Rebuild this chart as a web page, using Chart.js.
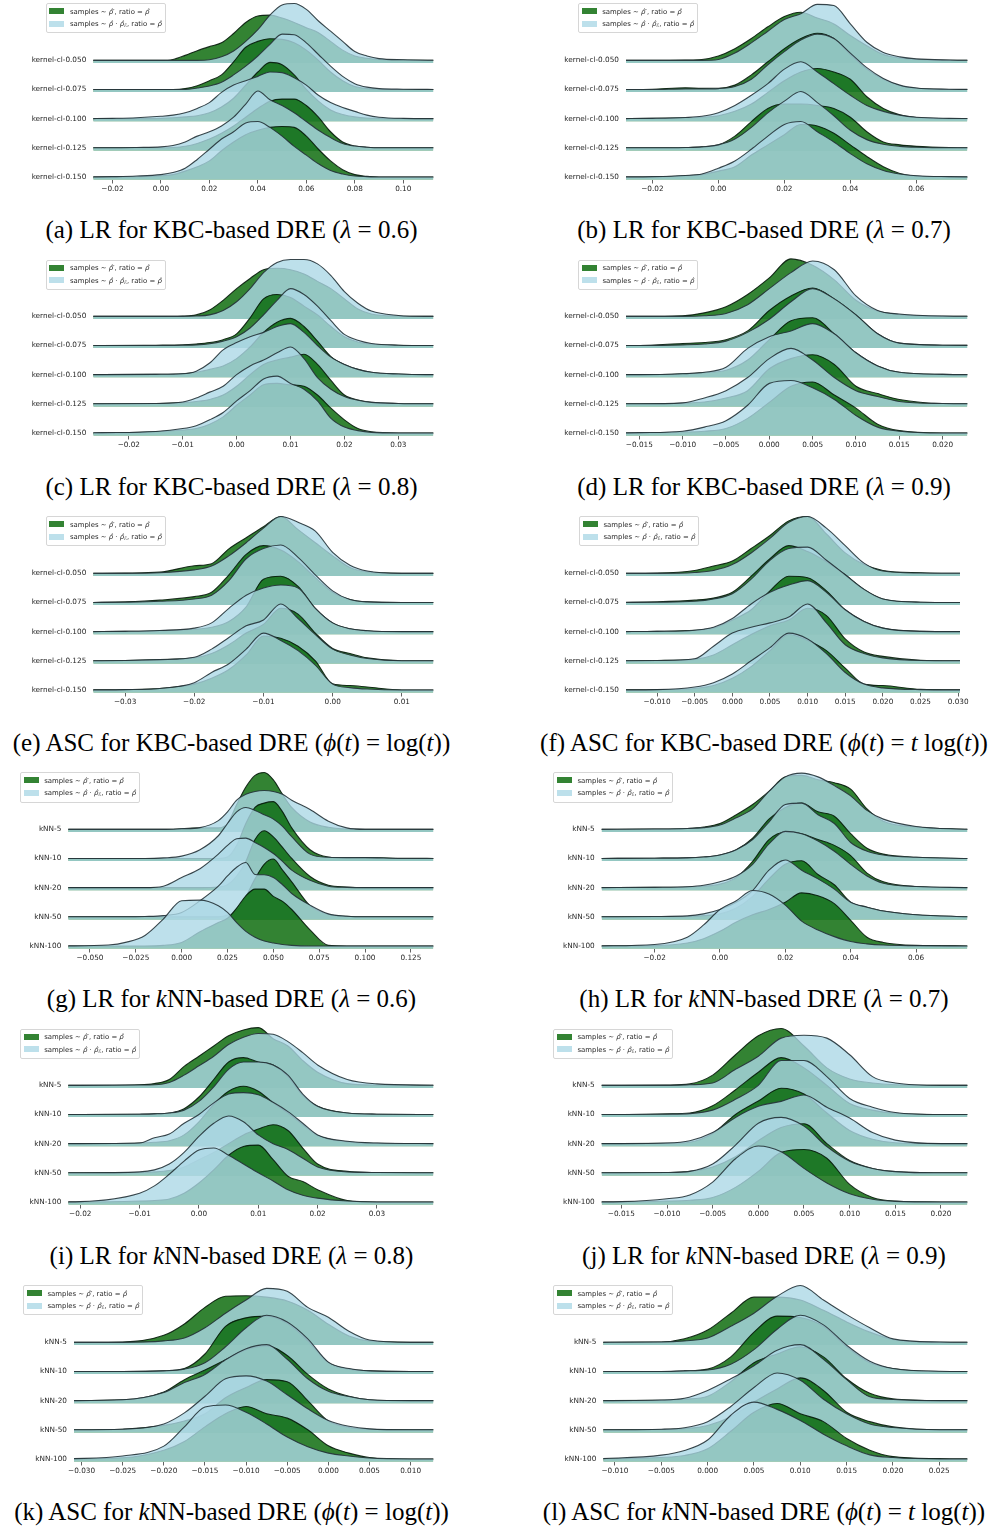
<!DOCTYPE html>
<html><head><meta charset="utf-8">
<script src="https://cdn.jsdelivr.net/npm/chart.js@4.4.1/dist/chart.umd.min.js"></script>
<style>
html,body{margin:0;padding:0;background:#fff;}
#page{position:relative;width:995px;height:1529px;overflow:hidden;background:#fff;}
.panel{position:absolute;}
.legend{position:absolute;z-index:5;font-family:"DejaVu Sans",sans-serif;font-size:6.9px;color:#262626;background:rgba(255,255,255,0.8);border:1px solid #d6d6d6;border-radius:2px;padding:1.5px 3px 1.5px 2.5px;line-height:12.6px;white-space:nowrap;}
.legend .sw{display:inline-block;width:15px;height:6px;margin-right:5.7px;vertical-align:middle;position:relative;top:-0.5px;}
.legend sub{font-size:70%;line-height:0;vertical-align:-0.3em;}
.caption{position:absolute;z-index:5;width:540px;text-align:center;font-family:"Liberation Serif","Times New Roman",serif;font-size:25px;line-height:30px;color:#000;white-space:nowrap;}
</style></head>
<body><div id="page"></div>
<script>
// ---------- labels & ticks ----------
const kbcLabels = ['kernel-cl-0.050','kernel-cl-0.075','kernel-cl-0.100','kernel-cl-0.125','kernel-cl-0.150'];
const knnLabels = ['kNN-5','kNN-10','kNN-20','kNN-50','kNN-100'];
const aTicks = [-0.02,0,0.02,0.04,0.06,0.08,0.10];
const bTicks = [-0.02,0,0.02,0.04,0.06];
const cTicks = [-0.02,-0.01,0,0.01,0.02,0.03];
const dTicks = [-0.015,-0.01,-0.005,0,0.005,0.01,0.015,0.02];
const eTicks = [-0.03,-0.02,-0.01,0,0.01];
const fTicks = [-0.01,-0.005,0,0.005,0.01,0.015,0.02,0.025,0.03];
const gTicks = [-0.05,-0.025,0,0.025,0.05,0.075,0.1,0.125];
const hTicks = [-0.02,0,0.02,0.04,0.06];
const iTicks = [-0.02,-0.01,0,0.01,0.02,0.03];
const jTicks = [-0.015,-0.01,-0.005,0,0.005,0.01,0.015,0.02];
const kTicks = [-0.03,-0.025,-0.02,-0.015,-0.01,-0.005,0,0.005,0.01];
const lTicks = [-0.01,-0.005,0,0.005,0.01,0.015,0.02,0.025];

// ---------- density samples (height in row units, rows top->bottom) ----------
// (a)
const aX = [-0.03,-0.02,-0.01,0,0.005,0.01,0.015,0.02,0.025,0.03,0.035,0.04,0.045,0.05,0.055,0.06,0.065,0.07,0.075,0.08,0.085,0.09,0.1,0.115];
const aG = [
 [0,0,0,0,0.03,0.17,0.33,0.47,0.6,0.92,1.3,1.52,1.55,1.45,1.3,1.12,0.95,0.65,0.35,0.15,0.07,0.03,0.01,0],
 [0,0,0,0,0,0.03,0.13,0.3,0.5,0.95,1.45,1.65,1.74,1.72,1.6,1.35,1.0,0.6,0.3,0.1,0.03,0.01,0,0],
 [0,0,0,0.01,0.03,0.06,0.1,0.2,0.4,0.7,1.15,1.6,1.93,1.85,1.5,1.0,0.6,0.3,0.14,0.06,0.02,0.01,0,0],
 [0,0,0,0,0.01,0.05,0.15,0.3,0.5,0.75,1.05,1.35,1.6,1.67,1.67,1.45,1.05,0.55,0.2,0.06,0.02,0,0,0],
 [0,0,0.01,0.04,0.08,0.2,0.35,0.55,0.9,1.2,1.45,1.6,1.7,1.73,1.7,1.4,0.95,0.55,0.25,0.08,0.02,0,0,0]];
const aB = [
 [0,0,0,0,0,0,0,0.02,0.12,0.32,0.65,1.05,1.55,1.9,1.95,1.75,1.35,1.0,0.65,0.3,0.15,0.06,0.02,0],
 [0,0,0,0,0,0,0.05,0.12,0.25,0.5,0.8,1.15,1.55,1.9,1.88,1.6,1.2,0.8,0.45,0.2,0.08,0.03,0.01,0],
 [0,0.01,0.03,0.08,0.12,0.2,0.35,0.55,0.9,1.15,1.3,1.45,1.6,1.58,1.4,1.15,0.8,0.55,0.38,0.25,0.12,0.05,0.01,0],
 [0,0,0.01,0.03,0.08,0.2,0.4,0.55,0.75,1.05,1.5,1.95,1.65,1.45,1.2,0.9,0.6,0.35,0.15,0.06,0.02,0,0,0],
 [0,0.01,0.03,0.08,0.15,0.3,0.6,0.95,1.3,1.55,1.85,1.9,1.7,1.4,1.05,0.75,0.45,0.22,0.1,0.03,0.01,0,0,0]];
// (b)
const bX = [-0.03,-0.02,-0.01,-0.005,0,0.005,0.01,0.015,0.02,0.025,0.03,0.035,0.04,0.045,0.05,0.055,0.06,0.07,0.08];
const bG = [
 [0,0,0.01,0.03,0.15,0.4,0.75,1.15,1.5,1.65,1.45,1.25,0.85,0.5,0.2,0.08,0.03,0,0],
 [0,0.01,0.06,0.04,0.04,0.15,0.5,0.95,1.4,1.75,1.93,1.75,1.2,0.7,0.35,0.13,0.04,0,0],
 [0,0.01,0.03,0.05,0.1,0.25,0.5,0.9,1.3,1.6,1.72,1.6,1.35,0.75,0.35,0.13,0.04,0,0],
 [0,0,0.01,0.03,0.1,0.4,0.9,1.35,1.5,1.5,1.45,1.35,1.05,0.55,0.2,0.1,0.05,0.01,0],
 [0,0,0.04,0.08,0.2,0.35,0.75,1.1,1.45,1.8,1.75,1.5,1.1,0.7,0.35,0.12,0.03,0,0]];
const bB = [
 [0,0,0,0,0.03,0.25,0.6,1.0,1.4,1.6,1.92,1.88,1.25,0.62,0.27,0.12,0.05,0.01,0],
 [0,0,0.02,0.02,0.03,0.1,0.35,0.85,1.3,1.7,1.9,1.75,1.25,0.75,0.38,0.15,0.05,0.01,0],
 [0,0.01,0.04,0.08,0.2,0.45,0.8,1.2,1.7,1.95,1.6,1.2,0.8,0.45,0.25,0.12,0.05,0.01,0],
 [0,0,0.01,0.03,0.1,0.3,0.7,1.2,1.6,1.93,1.55,1.1,0.6,0.28,0.12,0.05,0.02,0,0],
 [0,0.01,0.05,0.1,0.3,0.55,0.95,1.4,1.8,1.9,1.55,1.2,0.8,0.45,0.22,0.1,0.04,0.01,0]];
// (c)
const cX = [-0.03,-0.025,-0.015,-0.01,-0.0075,-0.005,-0.0025,0,0.0025,0.005,0.0075,0.01,0.0125,0.015,0.0175,0.02,0.0225,0.025,0.03,0.035,0.04];
const cG = [
 [0,0,0,0.01,0.05,0.22,0.55,0.95,1.3,1.6,1.65,1.6,1.45,1.2,0.95,0.6,0.25,0.08,0.01,0,0],
 [0,0,0.01,0.02,0.05,0.1,0.2,0.4,0.95,1.6,1.75,1.65,1.35,1.05,0.65,0.3,0.12,0.04,0.01,0,0],
 [0,0,0.01,0.03,0.08,0.18,0.3,0.55,0.95,1.45,1.8,1.93,1.65,1.15,0.62,0.35,0.18,0.08,0.02,0,0],
 [0,0,0.01,0.04,0.08,0.15,0.3,0.6,1.0,1.35,1.5,1.6,1.7,1.35,0.8,0.3,0.13,0.05,0.01,0,0],
 [0,0,0.04,0.1,0.15,0.3,0.55,0.95,1.3,1.65,1.7,1.65,1.6,1.3,0.85,0.45,0.15,0.04,0,0,0]];
const cB = [
 [0,0,0,0,0.01,0.05,0.2,0.5,0.95,1.5,1.85,1.95,1.95,1.8,1.4,0.85,0.45,0.18,0.03,0,0],
 [0,0,0,0.01,0.02,0.06,0.15,0.3,0.6,1.05,1.55,1.95,1.75,1.35,0.85,0.38,0.18,0.07,0.01,0,0],
 [0,0,0.01,0.03,0.12,0.4,0.85,1.1,1.3,1.45,1.65,1.75,1.45,1.0,0.6,0.35,0.18,0.08,0.02,0,0],
 [0,0,0.01,0.06,0.2,0.4,0.6,1.0,1.3,1.5,1.75,1.95,1.55,0.9,0.5,0.25,0.12,0.05,0.01,0,0],
 [0,0.01,0.05,0.15,0.25,0.45,0.7,1.1,1.45,1.85,1.95,1.7,1.5,1.1,0.5,0.2,0.08,0.02,0,0,0]];
// (d)
const dX = [-0.0175,-0.015,-0.01,-0.0075,-0.005,-0.0025,0,0.0025,0.005,0.0075,0.01,0.0125,0.015,0.02,0.025];
const dG = [
 [0,0,0.02,0.12,0.33,0.75,1.32,1.97,1.75,1.25,0.55,0.18,0.06,0,0],
 [0,0,0.07,0.1,0.2,0.5,1.2,1.7,1.97,1.6,1.05,0.4,0.08,0.01,0],
 [0,0,0.03,0.07,0.15,0.5,1.2,1.85,1.95,1.4,0.75,0.3,0.08,0.01,0],
 [0,0,0.02,0.06,0.2,0.45,1.2,1.55,1.68,1.35,0.6,0.35,0.15,0.01,0],
 [0,0,0.03,0.06,0.15,0.5,1.05,1.6,1.75,1.3,0.85,0.3,0.08,0,0]];
const dB = [
 [0,0,0,0.02,0.1,0.4,0.95,1.5,1.9,1.6,0.7,0.2,0.08,0.01,0],
 [0,0,0.02,0.05,0.15,0.45,0.9,1.5,1.95,1.6,1.05,0.4,0.08,0.01,0],
 [0,0,0.03,0.08,0.25,0.9,1.3,1.5,1.75,1.4,0.75,0.3,0.08,0.01,0],
 [0,0,0.03,0.2,0.45,0.9,1.55,1.9,1.5,0.9,0.45,0.25,0.08,0.01,0],
 [0,0.01,0.06,0.2,0.42,0.95,1.7,1.8,1.55,1.15,0.6,0.2,0.06,0,0]];
// (e)
const eX = [-0.035,-0.03,-0.025,-0.02,-0.0175,-0.015,-0.0125,-0.01,-0.0075,-0.005,-0.0025,0,0.0025,0.005,0.01,0.015];
const eG = [
 [0,0.01,0.04,0.26,0.33,0.84,1.22,1.6,1.95,1.5,1.05,0.6,0.2,0.05,0,0],
 [0,0.02,0.08,0.2,0.35,0.95,1.65,1.95,1.8,1.4,0.85,0.35,0.1,0.02,0,0],
 [0,0.01,0.03,0.08,0.15,0.35,0.85,1.8,1.9,1.55,0.8,0.3,0.1,0.03,0,0],
 [0,0.01,0.04,0.1,0.25,0.55,0.95,1.25,1.8,1.6,0.95,0.42,0.25,0.1,0,0],
 [0,0.01,0.05,0.2,0.4,0.7,1.2,1.85,1.77,1.5,1.0,0.21,0.15,0.1,0,0]];
const eB = [
 [0,0,0.02,0.12,0.25,0.6,1.05,1.55,1.95,1.75,1.45,0.72,0.28,0.08,0,0],
 [0,0.01,0.04,0.12,0.25,0.75,1.5,1.85,1.97,1.55,0.95,0.4,0.1,0.02,0,0],
 [0,0.01,0.04,0.12,0.3,0.8,1.25,1.5,1.6,1.5,0.8,0.3,0.1,0.03,0,0],
 [0,0.01,0.04,0.12,0.4,0.8,1.2,1.4,1.95,1.45,0.9,0.4,0.2,0.08,0,0],
 [0,0.01,0.05,0.25,0.6,0.9,1.4,1.95,1.7,1.35,0.85,0.2,0.08,0.03,0,0]];
// (f)
const fX = [-0.015,-0.01,-0.005,-0.0025,0,0.0025,0.005,0.0075,0.01,0.0125,0.015,0.0175,0.02,0.025,0.031];
const fG = [
 [0,0.01,0.1,0.25,0.42,0.85,1.3,1.8,1.95,1.35,0.7,0.3,0.1,0.02,0],
 [0,0.02,0.08,0.15,0.35,0.9,1.5,1.95,1.75,1.4,0.95,0.45,0.12,0.01,0],
 [0,0.01,0.05,0.12,0.4,0.75,1.4,1.9,1.85,1.4,0.75,0.35,0.12,0.01,0],
 [0,0.01,0.05,0.2,0.55,0.9,1.2,1.4,1.8,1.55,0.75,0.3,0.15,0.02,0],
 [0,0.01,0.05,0.15,0.4,0.8,1.35,1.9,1.7,1.35,0.75,0.2,0.15,0.02,0]];
const fB = [
 [0,0,0.03,0.1,0.3,0.7,1.2,1.75,1.95,1.55,0.95,0.35,0.08,0.01,0],
 [0,0.01,0.04,0.12,0.3,0.8,1.45,1.85,1.9,1.45,0.95,0.45,0.12,0.01,0],
 [0,0.01,0.05,0.15,0.45,0.95,1.35,1.6,1.75,1.35,0.75,0.35,0.12,0.01,0],
 [0,0.01,0.07,0.5,0.95,1.15,1.3,1.5,1.95,1.3,0.55,0.25,0.1,0.01,0],
 [0,0.01,0.1,0.25,0.55,1.0,1.45,1.95,1.75,1.25,0.6,0.2,0.07,0.01,0]];
// (g)
const gX = [-0.065,-0.04,-0.03,-0.02,-0.01,0,0.01,0.02,0.025,0.03,0.035,0.04,0.045,0.05,0.055,0.06,0.07,0.08,0.09,0.1,0.12,0.14];
const gG = [
 [0,0,0,0,0,0.02,0.05,0.05,0.2,0.85,1.45,1.85,1.95,1.7,1.2,0.75,0.25,0.07,0.01,0,0,0],
 [0,0,0,0,0,0,0,0,0.05,0.45,1.2,1.75,1.9,1.95,1.6,1.05,0.3,0.05,0.02,0.03,0.01,0],
 [0,0,0,0,0,0,0,0.02,0.1,0.4,0.9,1.65,1.95,1.74,1.38,1.0,0.38,0.08,0.02,0,0,0],
 [0,0,0,0,0,0,0,0,0.05,0.2,0.7,1.3,1.8,1.98,1.6,1.2,0.38,0.08,0.02,0,0,0],
 [0,0,0,0,0.02,0.12,0.49,0.8,0.95,1.3,1.72,1.95,1.95,1.7,1.53,1.25,0.55,0.02,0,0,0,0]];
const gB = [
 [0,0,0,0,0,0.02,0.06,0.3,0.6,1.0,1.2,1.3,1.33,1.3,1.2,1.0,0.68,0.28,0.05,0,0,0],
 [0,0,0,0,0.02,0.08,0.3,0.78,1.2,1.6,1.75,1.65,1.5,1.35,1.1,0.75,0.15,0.04,0.03,0.03,0,0],
 [0,0,0,0,0.05,0.35,0.65,1.15,1.45,1.68,1.7,1.55,1.38,1.17,0.9,0.6,0.25,0.05,0.01,0,0,0],
 [0,0,0,0.01,0.04,0.15,0.55,1.05,1.4,1.7,1.86,1.45,1.44,1.35,1.1,0.8,0.4,0.1,0.02,0,0,0],
 [0,0.03,0.13,0.36,0.92,1.55,1.57,1.38,1.15,0.8,0.5,0.3,0.17,0.1,0.05,0.02,0,0,0,0,0,0]];
// (h)
const hX = [-0.037,-0.02,-0.01,-0.005,0,0.005,0.01,0.015,0.02,0.025,0.03,0.035,0.04,0.045,0.05,0.06,0.076];
const hG = [
 [0,0.01,0.03,0.08,0.2,0.5,0.85,1.3,1.8,1.85,1.7,1.6,1.38,0.7,0.28,0.08,0],
 [0,0.01,0.02,0.05,0.12,0.3,0.7,1.35,1.75,1.9,1.6,1.45,0.85,0.35,0.15,0.04,0],
 [0,0.01,0.02,0.05,0.12,0.35,0.9,1.65,1.9,1.85,1.65,1.45,1.1,0.5,0.2,0.04,0],
 [0,0,0.01,0.04,0.1,0.3,0.7,1.3,1.8,1.92,1.45,1.1,0.5,0.33,0.2,0.07,0],
 [0,0.01,0.1,0.25,0.5,0.82,1.07,1.25,1.5,1.82,1.72,1.45,0.88,0.3,0.12,0.02,0]];
const hB = [
 [0,0.01,0.03,0.06,0.15,0.4,0.7,1.3,1.8,1.93,1.8,1.5,1.15,0.65,0.35,0.1,0],
 [0,0.01,0.02,0.05,0.12,0.3,0.65,1.25,1.85,1.9,1.5,1.2,0.55,0.25,0.12,0.04,0],
 [0,0.01,0.03,0.08,0.2,0.4,0.8,1.5,1.93,1.85,1.6,1.25,0.8,0.4,0.15,0.04,0],
 [0,0.01,0.03,0.1,0.25,0.5,0.9,1.6,1.95,1.6,1.3,0.95,0.5,0.33,0.2,0.07,0],
 [0,0.05,0.3,0.72,1.25,1.55,1.9,1.78,1.4,0.85,0.55,0.32,0.15,0.07,0.03,0.01,0]];
// (i)
const iX = [-0.023,-0.02,-0.01,-0.0075,-0.005,-0.0025,0,0.0025,0.005,0.0075,0.01,0.0125,0.015,0.0175,0.02,0.025,0.03,0.04];
const iG = [
 [0,0,0.02,0.06,0.2,0.65,1.0,1.35,1.7,1.9,1.98,1.6,1.35,0.85,0.45,0.06,0.01,0],
 [0,0,0.01,0.02,0.05,0.2,0.6,1.2,1.8,1.95,1.8,1.7,1.3,0.65,0.28,0.05,0.01,0],
 [0,0,0.02,0.05,0.1,0.3,0.75,1.35,1.8,1.97,1.8,1.4,1.05,0.65,0.28,0.06,0.01,0],
 [0,0,0.01,0.03,0.08,0.2,0.45,0.7,1.0,1.3,1.5,1.65,1.45,0.85,0.3,0.05,0.01,0],
 [0,0,0.03,0.05,0.1,0.3,0.65,1.1,1.6,1.9,1.95,1.45,0.88,0.7,0.42,0.05,0,0]];
const iB = [
 [0,0,0.01,0.02,0.1,0.35,0.67,1.0,1.4,1.65,1.78,1.75,1.5,1.12,0.7,0.2,0.05,0],
 [0,0,0.01,0.02,0.05,0.15,0.45,0.95,1.55,1.8,1.8,1.7,1.35,0.7,0.28,0.05,0.01,0],
 [0,0,0.02,0.2,0.33,0.7,1.0,1.4,1.7,1.75,1.68,1.42,1.1,0.7,0.3,0.08,0.02,0],
 [0,0,0.03,0.1,0.3,0.7,1.25,1.7,1.95,1.75,1.3,1.0,0.8,0.5,0.2,0.03,0.01,0],
 [0,0.01,0.3,0.55,0.95,1.4,1.78,1.85,1.6,1.3,1.0,0.72,0.42,0.23,0.13,0.03,0,0]];
// (j)
const jX = [-0.018,-0.015,-0.01,-0.0075,-0.005,-0.0025,0,0.0025,0.005,0.0075,0.01,0.0125,0.015,0.02,0.023];
const jG = [
 [0,0,0.01,0.05,0.35,1.05,1.7,1.95,1.35,0.6,0.22,0.08,0.02,0,0],
 [0,0,0.02,0.05,0.3,0.85,1.45,1.95,1.6,1.0,0.38,0.15,0.04,0,0],
 [0,0,0.01,0.05,0.35,1.0,1.46,1.9,1.7,1.05,0.45,0.15,0.03,0,0],
 [0,0,0.01,0.05,0.2,0.55,1.1,1.55,1.68,1.0,0.42,0.15,0.04,0,0],
 [0,0,0.03,0.06,0.15,0.5,1.05,1.7,1.8,1.5,0.6,0.15,0.03,0,0]];
const jB = [
 [0,0,0,0.02,0.08,0.55,1.0,1.62,1.72,1.62,1.05,0.3,0.08,0,0],
 [0,0,0.01,0.03,0.15,0.52,1.0,1.85,1.85,1.3,0.55,0.25,0.07,0,0],
 [0,0,0.02,0.1,0.38,0.9,1.28,1.45,1.67,1.25,0.88,0.38,0.12,0,0],
 [0,0,0.01,0.05,0.3,0.95,1.7,1.9,1.6,0.9,0.4,0.15,0.04,0,0],
 [0,0.01,0.11,0.24,0.68,1.48,1.92,1.72,1.15,0.65,0.28,0.09,0.02,0,0]];
// (k)
const kX = [-0.032,-0.025,-0.02,-0.0175,-0.015,-0.0125,-0.01,-0.0075,-0.005,-0.0025,0,0.0025,0.005,0.01,0.013];
const kG = [
 [0,0.01,0.24,0.63,1.2,1.58,1.6,1.55,1.42,1.1,0.62,0.22,0.05,0,0],
 [0,0,0.02,0.1,0.6,1.55,1.84,1.9,1.65,1.05,0.3,0.08,0.02,0,0],
 [0,0.03,0.3,0.72,1.05,1.4,1.75,1.88,1.55,0.9,0.4,0.15,0.03,0,0],
 [0,0.02,0.15,0.3,0.55,1.1,1.45,1.72,1.65,1.0,0.3,0.08,0.02,0,0],
 [0,0.04,0.3,0.6,1.1,1.55,1.8,1.55,1.4,1.0,0.45,0.2,0.05,0,0]];
const kB = [
 [0,0,0.05,0.15,0.5,1.0,1.45,1.85,1.75,1.2,0.86,0.38,0.08,0,0],
 [0,0,0.02,0.08,0.3,0.85,1.5,1.93,1.7,1.12,0.32,0.1,0.02,0,0],
 [0,0.03,0.28,0.62,0.9,1.4,1.78,1.92,1.42,0.75,0.32,0.14,0.03,0,0],
 [0,0.02,0.2,0.58,1.15,1.75,1.85,1.67,1.2,0.72,0.32,0.12,0.03,0,0],
 [0,0.1,0.44,1.1,1.78,1.85,1.6,1.2,0.75,0.42,0.2,0.1,0.03,0,0]];
// (l)
const lX = [-0.012,-0.005,-0.0025,0,0.0025,0.005,0.0075,0.01,0.0125,0.015,0.0175,0.02,0.025,0.029];
const lG = [
 [0,0.01,0.12,0.42,1.0,1.55,1.55,1.45,1.1,0.7,0.35,0.1,0,0],
 [0,0,0.02,0.08,0.5,1.35,1.9,1.85,1.55,0.85,0.3,0.1,0,0],
 [0,0.01,0.05,0.15,0.65,1.3,1.6,1.85,1.5,0.75,0.25,0.06,0,0],
 [0,0.01,0.04,0.15,0.45,0.95,1.4,1.78,1.35,0.6,0.28,0.1,0,0],
 [0,0.05,0.12,0.35,0.95,1.6,1.9,1.55,1.28,0.7,0.3,0.08,0.01,0]];
const lB = [
 [0,0.01,0.05,0.15,0.55,1.0,1.58,1.95,1.45,0.95,0.5,0.12,0.01,0],
 [0,0,0.02,0.05,0.25,0.75,1.45,1.93,1.6,0.9,0.35,0.1,0.01,0],
 [0,0.02,0.08,0.35,0.75,1.2,1.73,1.92,1.42,0.72,0.13,0.04,0,0],
 [0,0.02,0.07,0.28,0.8,1.45,1.95,1.7,1.05,0.55,0.2,0.08,0,0],
 [0,0.13,0.29,0.65,1.5,1.95,1.7,1.32,0.85,0.45,0.14,0.05,0,0]];

// ---------- styling / layout ----------
const GREEN_FILL = 'rgba(0,100,0,0.8)';
const BLUE_FILL = 'rgba(173,216,230,0.8)';
const GREEN_LINE = 'rgba(5,25,10,0.9)';
const BLUE_LINE = 'rgba(35,50,55,0.9)';
const PX_PER_ROW = 29.15;
const PITCH = 256.35;
const CANVAS_H = 198;
const XAXIS_H = 18;
const YMIN = -0.105;
const YMAX = YMIN + (CANVAS_H - XAXIS_H) / PX_PER_ROW;
const STRIP = 0.09;

const lam = v => `(<i>λ</i> = ${v})`;
const panels = [
 {col:0,row:0,plotL:93.3,plotR:433.3,xmin:-0.0279,xmax:0.1124,xs:aX,g:aG,b:aB,ticks:aTicks,dec:2,labels:kbcLabels,legL:45.7,cap:'(a) LR for KBC-based DRE '+lam('0.6')},
 {col:1,row:0,plotL:626,plotR:967.3,xmin:-0.028,xmax:0.07545,xs:bX,g:bG,b:bB,ticks:bTicks,dec:2,labels:kbcLabels,legL:578,cap:'(b) LR for KBC-based DRE '+lam('0.7')},
 {col:0,row:1,plotL:93.3,plotR:433.3,xmin:-0.02659,xmax:0.03649,xs:cX,g:cG,b:cB,ticks:cTicks,dec:2,labels:kbcLabels,legL:45.7,cap:'(c) LR for KBC-based DRE '+lam('0.8')},
 {col:1,row:1,plotL:626,plotR:967.3,xmin:-0.01654,xmax:0.02285,xs:dX,g:dG,b:dB,ticks:dTicks,dec:3,labels:kbcLabels,legL:578.3,cap:'(d) LR for KBC-based DRE '+lam('0.9')},
 {col:0,row:2,plotL:93.3,plotR:433.3,xmin:-0.0346,xmax:0.01455,xs:eX,g:eG,b:eB,ticks:eTicks,dec:2,labels:kbcLabels,legL:45.7,cap:'(e) ASC for KBC-based DRE (<i>ϕ</i>(<i>t</i>) = log(<i>t</i>))'},
 {col:1,row:2,plotL:626,plotR:960,xmin:-0.01413,xmax:0.03025,xs:fX,g:fG,b:fB,ticks:fTicks,dec:3,labels:kbcLabels,legL:579.3,cap:'(f) ASC for KBC-based DRE (<i>ϕ</i>(<i>t</i>) = <i>t</i> log(<i>t</i>))'},
 {col:0,row:3,plotL:68.3,plotR:433.3,xmin:-0.0618,xmax:0.1372,xs:gX,g:gG,b:gB,ticks:gTicks,dec:3,labels:knnLabels,legL:20,cap:'(g) LR for <i>k</i>NN-based DRE '+lam('0.6')},
 {col:1,row:3,plotL:601.7,plotR:967.3,xmin:-0.0362,xmax:0.0757,xs:hX,g:hG,b:hB,ticks:hTicks,dec:2,labels:knnLabels,legL:553.3,cap:'(h) LR for <i>k</i>NN-based DRE '+lam('0.7')},
 {col:0,row:4,plotL:68.3,plotR:433.3,xmin:-0.02202,xmax:0.0395,xs:iX,g:iG,b:iB,ticks:iTicks,dec:2,labels:knnLabels,legL:20,cap:'(i) LR for <i>k</i>NN-based DRE '+lam('0.8')},
 {col:1,row:4,plotL:601.7,plotR:967.3,xmin:-0.01715,xmax:0.02288,xs:jX,g:jG,b:jB,ticks:jTicks,dec:3,labels:knnLabels,legL:553.3,cap:'(j) LR for <i>k</i>NN-based DRE '+lam('0.9')},
 {col:0,row:5,plotL:74,plotR:433.3,xmin:-0.03092,xmax:0.01276,xs:kX,g:kG,b:kB,ticks:kTicks,dec:3,labels:knnLabels,legL:23.3,cap:'(k) ASC for <i>k</i>NN-based DRE (<i>ϕ</i>(<i>t</i>) = log(<i>t</i>))'},
 {col:1,row:5,plotL:603.3,plotR:967.3,xmin:-0.01126,xmax:0.02802,xs:lX,g:lG,b:lB,ticks:lTicks,dec:3,labels:knnLabels,legL:553.3,cap:'(l) ASC for <i>k</i>NN-based DRE (<i>ϕ</i>(<i>t</i>) = <i>t</i> log(<i>t</i>))'}
];

Chart.defaults.font.family = '"DejaVu Sans", sans-serif';
Chart.defaults.color = '#262626';
const page = document.getElementById('page');
const FONT = {family:'"DejaVu Sans", sans-serif', size:7.3};
const fmt = (v, d) => (v < 0 ? '\u2212' : '') + Math.abs(v).toFixed(d);

function datasets(p) {
  const out = [];
  for (let r = 0; r < 5; r++) {
    const base = 4 - r;
    const common = {pointRadius:0, borderWidth:1.1, cubicInterpolationMode:'monotone', clip:0, fill:{value: base - STRIP}};
    out.push(Object.assign({}, common, {label:'g'+r, data:p.xs.map((x,i)=>({x, y: base + p.g[r][i]})),
      backgroundColor:GREEN_FILL, borderColor:GREEN_LINE, order:(4-r)*2+1}));
    out.push(Object.assign({}, common, {label:'b'+r, data:p.xs.map((x,i)=>({x, y: base + p.b[r][i]})),
      backgroundColor:BLUE_FILL, borderColor:BLUE_LINE, order:(4-r)*2}));
  }
  return out;
}

panels.forEach(p => {
  const cLeft = p.col === 0 ? 0 : 540;
  const top = p.row * PITCH;
  const W = Math.ceil(p.plotR - cLeft + 20);
  const padR = W - (p.plotR - cLeft);
  const yw = p.plotL - cLeft;
  const div = document.createElement('div');
  div.className = 'panel';
  div.style.cssText = `left:${cLeft}px;top:${top}px;width:${W}px;height:${CANVAS_H}px;`;
  const cv = document.createElement('canvas');
  cv.width = W; cv.height = CANVAS_H;
  cv.style.width = W + 'px'; cv.style.height = CANVAS_H + 'px';
  div.appendChild(cv);
  page.appendChild(div);

  new Chart(cv, {
    type:'line',
    data:{datasets:datasets(p)},
    options:{
      responsive:false, animation:false, devicePixelRatio:1, events:[],
      layout:{padding:{left:0,right:padR,top:0,bottom:0}},
      plugins:{legend:{display:false}, tooltip:{enabled:false}, filler:{propagate:false}},
      scales:{
        x:{type:'linear', min:p.xmin, max:p.xmax,
           afterBuildTicks: s => { s.ticks = p.ticks.map(v => ({value:v})); },
           afterFit: s => { s.height = XAXIS_H; s.paddingLeft = 0; s.paddingRight = 0; },
           ticks:{callback: v => fmt(v, p.dec), font:FONT, color:'#262626', padding:1.5, maxRotation:0, autoSkip:false},
           grid:{display:true, drawOnChartArea:false, drawTicks:true, tickLength:3.5, color:'#3a3a3a', lineWidth:0.8},
           border:{display:false}},
        y:{type:'linear', min:YMIN, max:YMAX,
           afterBuildTicks: s => { s.ticks = [0,1,2,3,4].map(v => ({value:v})); },
           afterFit: s => { s.width = yw; s.paddingTop = 0; s.paddingBottom = 0; },
           ticks:{callback: v => p.labels[4 - v], font:FONT, color:'#262626', padding:7},
           grid:{display:false, drawTicks:false},
           border:{display:false}}
      }
    }
  });

  const lg = document.createElement('div');
  lg.className = 'legend';
  lg.style.left = p.legL + 'px';
  lg.style.top = (top + 3.3) + 'px';
  lg.innerHTML = `<div><span class="sw" style="background:${GREEN_FILL}"></span>samples \u223C <i>ρ\u0302</i>\u2032, ratio = <i>ρ\u0302</i></div>` +
                 `<div><span class="sw" style="background:${BLUE_FILL}"></span>samples \u223C <i>ρ\u0302</i> · <i>ρ\u0302</i><sub>ℰ</sub>, ratio = <i>ρ\u0302</i></div>`;
  page.appendChild(lg);

  const cap = document.createElement('div');
  cap.className = 'caption';
  const cx = p.col === 0 ? 231.5 : 764;
  cap.style.left = (cx - 270) + 'px';
  cap.style.top = (top + 230.3 - 15) + 'px';
  cap.innerHTML = p.cap;
  page.appendChild(cap);
});
</script>
</body></html>
